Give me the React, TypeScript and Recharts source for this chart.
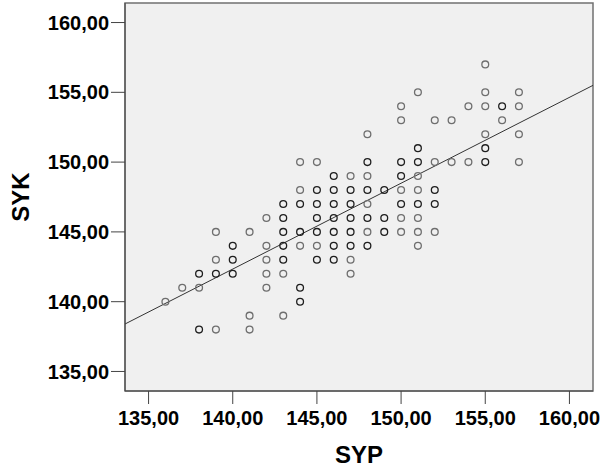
import React from 'react';
import { ScatterChart, Scatter, XAxis, YAxis, ReferenceArea, ReferenceLine } from 'recharts';

// axis range and ticks, same for both axes
const axisDomain: [number, number] = [133.6, 161.4];
const axisTicks = [135, 140, 145, 150, 155, 160];

// [SYP, SYK, cases on the same spot]
const points: [number, number, number][] = [
  [155, 157, 1],
  [151, 155, 1], [155, 155, 1], [157, 155, 1],
  [150, 154, 1], [154, 154, 1], [155, 154, 1], [156, 154, 2], [157, 154, 1],
  [150, 153, 1], [152, 153, 1], [153, 153, 1], [156, 153, 1],
  [148, 152, 1], [155, 152, 1], [157, 152, 1],
  [151, 151, 2], [155, 151, 2],
  [144, 150, 1], [145, 150, 1], [148, 150, 2], [150, 150, 2], [151, 150, 2],
  [152, 150, 1], [153, 150, 1], [154, 150, 1], [155, 150, 2], [157, 150, 1],
  [146, 149, 2], [147, 149, 1], [148, 149, 1], [150, 149, 2], [151, 149, 1],
  [144, 148, 1], [145, 148, 2], [146, 148, 2], [147, 148, 2], [148, 148, 2],
  [149, 148, 2], [150, 148, 1], [151, 148, 1], [152, 148, 2],
  [143, 147, 2], [144, 147, 2], [145, 147, 2], [146, 147, 2], [147, 147, 2],
  [148, 147, 1], [150, 147, 2], [151, 147, 2], [152, 147, 2],
  [142, 146, 1], [143, 146, 2], [145, 146, 2], [146, 146, 2], [147, 146, 2],
  [148, 146, 2], [149, 146, 2], [150, 146, 1], [151, 146, 1],
  [139, 145, 1], [141, 145, 1], [143, 145, 2], [144, 145, 2], [145, 145, 2],
  [146, 145, 2], [147, 145, 2], [148, 145, 1], [149, 145, 2], [150, 145, 1],
  [151, 145, 1], [152, 145, 1],
  [140, 144, 2], [142, 144, 1], [143, 144, 2], [144, 144, 1], [145, 144, 1],
  [146, 144, 2], [147, 144, 2], [148, 144, 2], [151, 144, 1],
  [139, 143, 1], [140, 143, 2], [142, 143, 1], [143, 143, 2], [145, 143, 2],
  [146, 143, 2], [147, 143, 1],
  [138, 142, 2], [139, 142, 2], [140, 142, 2], [142, 142, 1], [143, 142, 1], [147, 142, 1],
  [137, 141, 1], [138, 141, 1], [142, 141, 1], [144, 141, 2],
  [136, 140, 1], [144, 140, 2],
  [141, 139, 1], [143, 139, 1],
  [138, 138, 2], [139, 138, 1], [141, 138, 1],
];

// fitted line, read at the two plot edges
const fitLine = [
  { x: 133.6, y: 138.4 },
  { x: 161.4, y: 155.5 },
];

const data = points.map(([syp, syk, n]) => ({ syp, syk, n }));

const fmt = (v: number) => v.toFixed(2).replace('.', ',');

const font = '"Liberation Sans", Arial, sans-serif';

const tickStyle = {
  fill: '#000',
  fontSize: 20,
  fontWeight: 'bold',
  fontFamily: font,
};

const Ring = (props: any) => {
  const { cx, cy, payload } = props;
  return (
    <circle
      cx={cx}
      cy={cy}
      r={3.4}
      fill="none"
      stroke={payload.n > 1 ? '#1e1e1e' : '#6e6e6e'}
      strokeWidth={1.3}
    />
  );
};

export default function App() {
  return (
    <div style={{ position: 'absolute', left: 0, top: 0, background: '#fff' }}>
      <ScatterChart width={601} height={473} margin={{ top: 3, right: 8, bottom: 0, left: 0 }}>
        <ReferenceArea
          x1={axisDomain[0]}
          x2={axisDomain[1]}
          y1={axisDomain[0]}
          y2={axisDomain[1]}
          fill="#f0f0f0"
          fillOpacity={1}
          stroke="#707070"
          strokeWidth={1.5}
        />
        <XAxis
          dataKey="syp"
          type="number"
          domain={axisDomain}
          allowDataOverflow
          ticks={axisTicks}
          interval={0}
          tickFormatter={fmt}
          tickSize={13}
          tickMargin={7}
          height={82}
          stroke="#444"
          tick={tickStyle}
          label={{
            value: 'SYP',
            position: 'insideBottom',
            offset: 10,
            fill: '#000',
            fontSize: 24,
            fontWeight: 'bold',
            fontFamily: font,
          }}
        />
        <YAxis
          dataKey="syk"
          type="number"
          domain={axisDomain}
          allowDataOverflow
          ticks={axisTicks}
          interval={0}
          tickFormatter={fmt}
          tickSize={14}
          tickMargin={2}
          width={125}
          stroke="#444"
          tick={tickStyle}
          label={{
            value: 'SYK',
            angle: -90,
            position: 'center',
            dx: -42,
            fill: '#000',
            fontSize: 24,
            fontWeight: 'bold',
            fontFamily: font,
          }}
        />
        <ReferenceLine segment={fitLine} stroke="#333" strokeWidth={1} />
        <Scatter data={data} shape={Ring} isAnimationActive={false} />
      </ScatterChart>
    </div>
  );
}
